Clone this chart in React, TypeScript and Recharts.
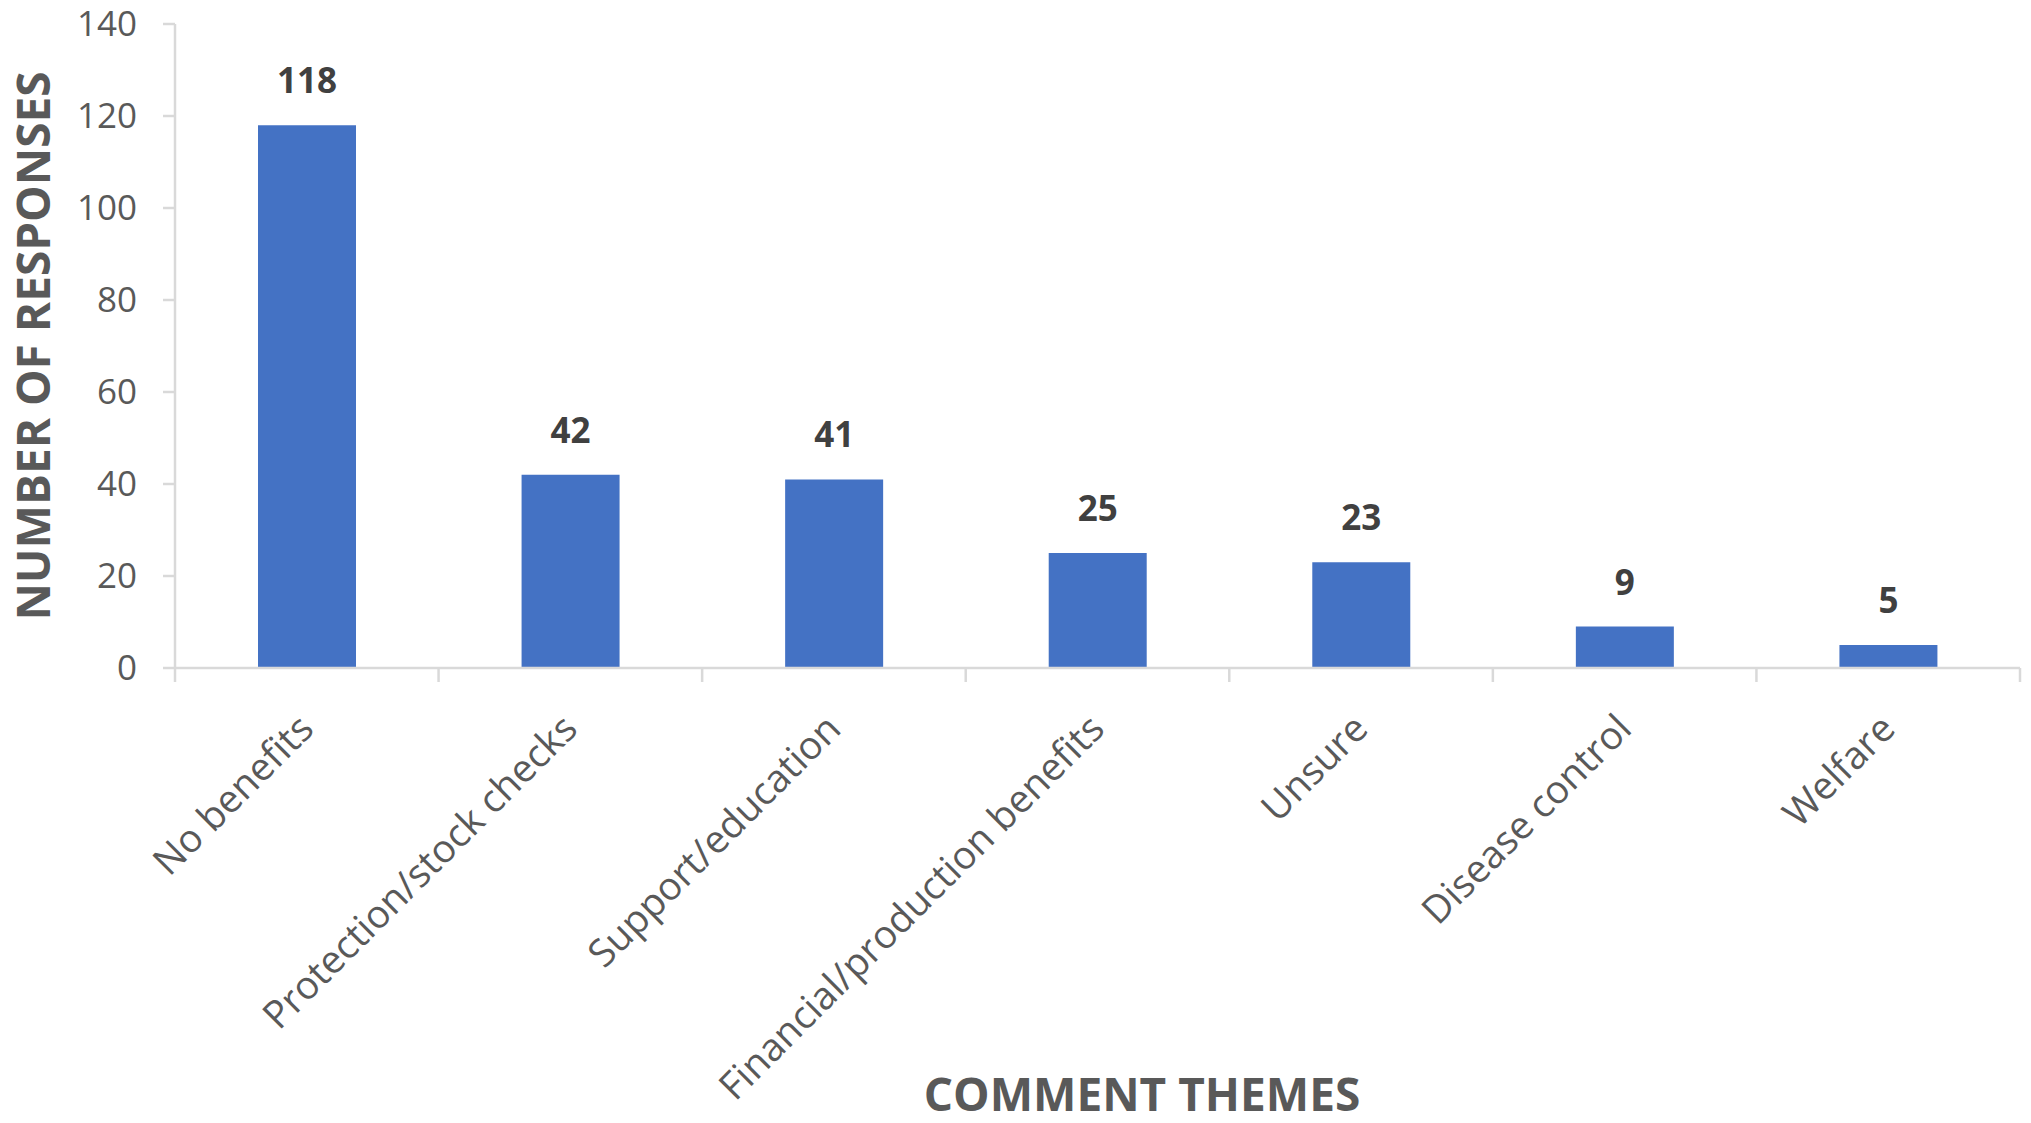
import { FC } from 'react';
import { BarChart, Bar, XAxis, YAxis, LabelList } from 'recharts';

// Comment themes and how many responses fell into each
const themes = [
  'No benefits',
  'Protection/stock checks',
  'Support/education',
  'Financial/production benefits',
  'Unsure',
  'Disease control',
  'Welfare'
];
const responses = [118, 42, 41, 25, 23, 9, 5];
const yTicks = [0, 20, 40, 60, 80, 100, 120, 140];

const WIDTH = 2031;
const HEIGHT = 1123;
const MARGIN = { top: 24, right: 11, left: 0, bottom: 0 };
const Y_AXIS_WIDTH = 175;
const BAND = (WIDTH - MARGIN.left - MARGIN.right - Y_AXIS_WIDTH) / themes.length;

const FONT = '"Open Sans", sans-serif';
const AXIS_COLOR = '#D9D9D9';
const TEXT_COLOR = '#595959';

const chartData = themes.map((theme, i) => ({ theme, count: responses[i] }));

// Excel puts the x tick marks between categories, so draw them from the tick itself
const ThemeTick: FC<any> = ({ x, y, payload, index }) => (
  <g>
    <line x1={x - BAND / 2} x2={x - BAND / 2} y1={y} y2={y + 14} stroke={AXIS_COLOR} strokeWidth={2.5} />
    {index === themes.length - 1 && (
      <line x1={x + BAND / 2} x2={x + BAND / 2} y1={y} y2={y + 14} stroke={AXIS_COLOR} strokeWidth={2.5} />
    )}
    <text
      transform={`translate(${x + 9},${y + 63}) rotate(-45)`}
      textAnchor="end"
      fill={TEXT_COLOR}
      fontSize={38.5}
      fontFamily={FONT}
    >
      {payload.value}
    </text>
  </g>
);

const App: FC = () => (
  <div style={{ position: 'absolute', left: 0, top: 0, background: '#fff' }}>
    <BarChart width={WIDTH} height={HEIGHT} data={chartData} margin={MARGIN}>
      <XAxis
        dataKey="theme"
        height={455}
        interval={0}
        axisLine={{ stroke: AXIS_COLOR, strokeWidth: 2.5 }}
        tickLine={false}
        tickSize={0}
        tickMargin={0}
        tick={<ThemeTick />}
        label={{
          content: () => (
            <text
              x={1142}
              y={1111}
              textAnchor="middle"
              fill={TEXT_COLOR}
              fontSize={46}
              fontWeight="bold"
              fontFamily={FONT}
            >
              COMMENT THEMES
            </text>
          )
        }}
      />
      <YAxis
        width={Y_AXIS_WIDTH}
        domain={[0, 140]}
        ticks={yTicks}
        interval={0}
        tickSize={12}
        tickMargin={26}
        axisLine={{ stroke: AXIS_COLOR, strokeWidth: 2.5 }}
        tickLine={{ stroke: AXIS_COLOR, strokeWidth: 2.5 }}
        tick={{ fill: TEXT_COLOR, fontSize: 35, fontFamily: FONT }}
        label={{
          content: () => (
            <text
              transform="translate(50,346) rotate(-90)"
              textAnchor="middle"
              fill={TEXT_COLOR}
              fontSize={46}
              fontWeight="bold"
              fontFamily={FONT}
            >
              NUMBER OF RESPONSES
            </text>
          )
        }}
      />
      <Bar dataKey="count" fill="#4472C4" barSize={98} isAnimationActive={false}>
        <LabelList
          dataKey="count"
          position="top"
          offset={32}
          fill="#404040"
          fontSize={35}
          fontWeight="bold"
          fontFamily={FONT}
        />
      </Bar>
    </BarChart>
  </div>
);

export default App;
